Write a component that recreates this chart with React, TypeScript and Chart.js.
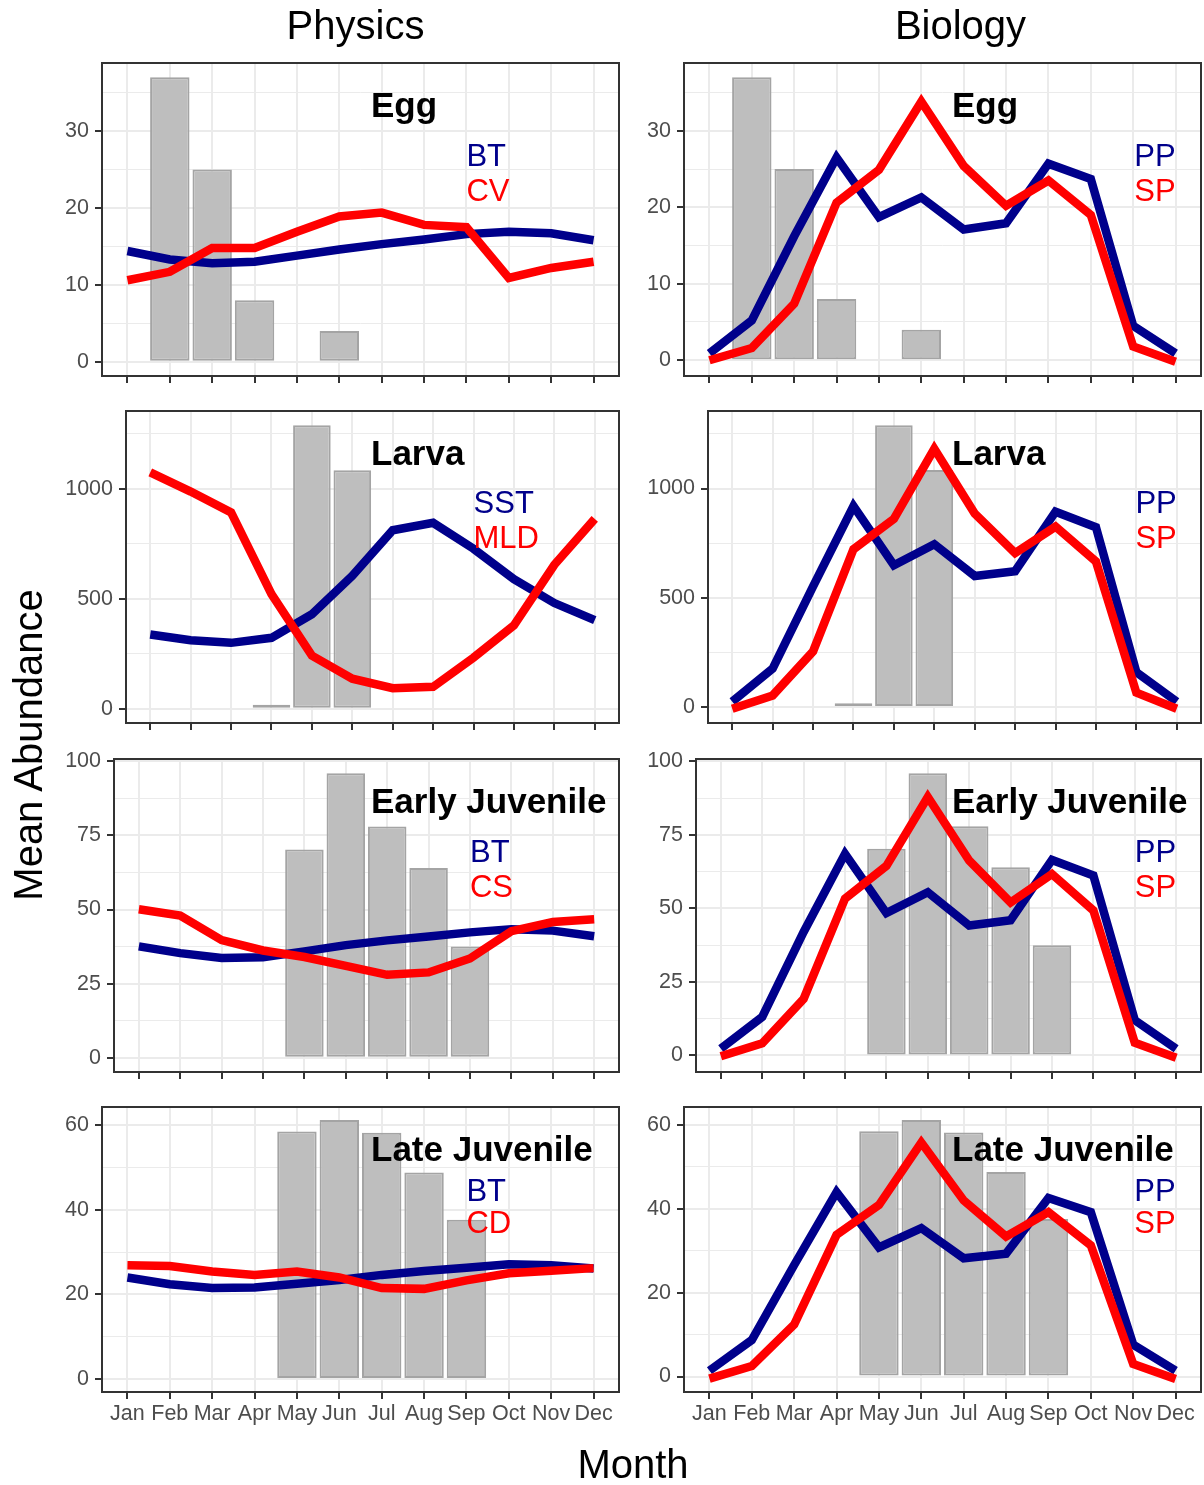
import React, { useEffect, useRef } from "react";
import { Chart, registerables } from "chart.js";

Chart.register(...registerables);

// ---------------- data ----------------
const MONTHS = ["Jan", "Feb", "Mar", "Apr", "May", "Jun", "Jul", "Aug", "Sep", "Oct", "Nov", "Dec"];
const STAGES = ["Egg", "Larva", "Early Juvenile", "Late Juvenile"];

// grey bars: mean abundance per stage (same in both columns)
const EGG_BARS = [null, 37, 25, 8, null, 4, null, null, null, null, null, null];
const LARVA_BARS = [null, null, null, 18, 1290, 1085, null, null, null, null, null, null];
const EARLY_JUV_BARS = [null, null, null, null, 70.3, 96, 78, 64, 37.5, null, null, null];
const LATE_JUV_BARS = [null, null, null, null, 58.5, 61.2, 58.2, 48.8, 37.6, null, null, null];

// Physics lines
const EGG_BT = [14.4, 13.3, 12.8, 13.0, 13.8, 14.6, 15.3, 15.9, 16.6, 16.9, 16.7, 15.8];
const EGG_CV = [10.6, 11.7, 14.8, 14.8, 16.9, 18.9, 19.4, 17.8, 17.5, 10.9, 12.2, 13.0];
const LARVA_SST = [338, 312, 300, 323, 430, 605, 812, 846, 728, 590, 481, 403];
const LARVA_MLD = [1075, 988, 893, 522, 242, 137, 94, 100, 233, 380, 655, 864];
const EJ_BT = [37.6, 35.3, 33.7, 33.9, 35.9, 38, 39.6, 40.9, 42.3, 43.4, 42.9, 41];
const EJ_CS = [50.1, 48, 39.7, 36.2, 34, 31, 28, 28.8, 33.5, 42.7, 45.8, 46.7];
const LJ_BT = [24, 22.4, 21.5, 21.6, 22.5, 23.4, 24.6, 25.5, 26.3, 27.1, 26.9, 26.1];
const LJ_CD = [26.9, 26.7, 25.4, 24.6, 25.4, 24, 21.5, 21.3, 23.3, 25, 25.6, 26.2];

// Biology lines
const EGG_PP = [0.9, 5.2, 16.2, 26.5, 18.7, 21.3, 17.1, 17.9, 25.7, 23.7, 4.5, 0.9];
const EGG_SP = [0, 1.6, 7.4, 20.6, 24.9, 33.8, 25.4, 20.2, 23.5, 19.0, 1.8, -0.2];
const LARVA_PP = [25, 176, 552, 920, 649, 745, 600, 622, 894, 823, 160, 25];
const LARVA_SP = [-8, 53, 255, 722, 861, 1182, 886, 705, 826, 666, 66, -8];
const EJ_PP = [2.3, 13.1, 42, 68.6, 48.4, 55.5, 44.2, 46, 66.5, 61.2, 12, 2.3];
const EJ_SP = [-0.3, 4.1, 19.2, 53.3, 64.5, 87.9, 66.3, 52, 61.7, 49.3, 4.3, -0.8];
const LJ_PP = [1.4, 8.7, 26.6, 44, 30.8, 35.4, 28.2, 29.3, 42.6, 39.2, 7.6, 1.4];
const LJ_SP = [-0.5, 2.5, 12.4, 33.8, 40.9, 55.8, 42, 33.4, 39.2, 31.3, 3, -0.6];

// major y tick step per stage row
const Y_STEPS = [10, 500, 25, 20];

// ---------------- layout / style ----------------
const FONT = '"Liberation Sans", Arial, Helvetica, sans-serif';
const ROW_TOP = [63, 411, 759, 1107];
const ROW_BOTTOM = [376, 723, 1072, 1392];
const COL_X = [0, 632];
const COL_W = [632, 572];
const PANEL_LEFT = [
  [102, 126, 114, 102],
  [684, 708, 696, 684],
];
const PANEL_RIGHT = [619, 1201];
const TITLE_X = [371, 952];
const TOP_PAD = 25;
const LABEL_X = [9, 12];
const LABEL_ALIGN: CanvasTextAlign[] = ["left", "right"];
const NAVY_FRAC = 0.699;
const RED_FRAC = 0.587;
const NAVY = "#00008B";
const RED = "#FF0000";
const LINE_W = 8.5;

type PanelCfg = {
  stage: string;
  row: number;
  col: number;
  bars: (number | null)[];
  navy: number[];
  red: number[];
  navyName: string;
  redName: string;
};

const PANELS: PanelCfg[] = [
  { stage: STAGES[0], row: 0, col: 0, bars: EGG_BARS, navy: EGG_BT, red: EGG_CV, navyName: "BT", redName: "CV" },
  { stage: STAGES[0], row: 0, col: 1, bars: EGG_BARS, navy: EGG_PP, red: EGG_SP, navyName: "PP", redName: "SP" },
  { stage: STAGES[1], row: 1, col: 0, bars: LARVA_BARS, navy: LARVA_SST, red: LARVA_MLD, navyName: "SST", redName: "MLD" },
  { stage: STAGES[1], row: 1, col: 1, bars: LARVA_BARS, navy: LARVA_PP, red: LARVA_SP, navyName: "PP", redName: "SP" },
  { stage: STAGES[2], row: 2, col: 0, bars: EARLY_JUV_BARS, navy: EJ_BT, red: EJ_CS, navyName: "BT", redName: "CS" },
  { stage: STAGES[2], row: 2, col: 1, bars: EARLY_JUV_BARS, navy: EJ_PP, red: EJ_SP, navyName: "PP", redName: "SP" },
  { stage: STAGES[3], row: 3, col: 0, bars: LATE_JUV_BARS, navy: LJ_BT, red: LJ_CD, navyName: "BT", redName: "CD" },
  { stage: STAGES[3], row: 3, col: 1, bars: LATE_JUV_BARS, navy: LJ_PP, red: LJ_SP, navyName: "PP", redName: "SP" },
];

function Panel({ p }: { p: PanelCfg }) {
  const ref = useRef<HTMLCanvasElement>(null);
  const xh = p.row === 3 ? 50 : 12;
  const top = ROW_TOP[p.row] - TOP_PAD;
  const height = ROW_BOTTOM[p.row] - ROW_TOP[p.row] + TOP_PAD + xh;
  const left = COL_X[p.col];
  const width = COL_W[p.col];
  const yw = PANEL_LEFT[p.col][p.row] - left;
  const padR = left + width - PANEL_RIGHT[p.col];

  useEffect(() => {
    if (!ref.current) return;
    const barVals = p.bars.filter((v) => v !== null) as number[];
    const all = [0, ...barVals, ...p.navy, ...p.red];
    const lo = Math.min(...all);
    const hi = Math.max(...all);
    const pad = (hi - lo) * 0.05;
    const yMin = lo - pad;
    const yMax = hi + pad;
    const step = Y_STEPS[p.row];
    const isMajor = (v: number) => Math.abs(v / step - Math.round(v / step)) < 1e-9;
    const showX = p.row === 3;

    const decor = {
      id: "panelDecor",
      afterDatasetsDraw(chart: any) {
        const { ctx, chartArea: a, scales } = chart;
        const xs = scales.x;
        const ys = scales.y;
        ctx.save();
        // variable labels
        ctx.font = `31px ${FONT}`;
        ctx.textBaseline = "middle";
        ctx.textAlign = LABEL_ALIGN[p.col];
        const lx = xs.getPixelForValue(LABEL_X[p.col]);
        ctx.fillStyle = NAVY;
        ctx.fillText(p.navyName, lx, ys.getPixelForValue(yMin + NAVY_FRAC * (yMax - yMin)));
        ctx.fillStyle = RED;
        ctx.fillText(p.redName, lx, ys.getPixelForValue(yMin + RED_FRAC * (yMax - yMin)));
        // stage title
        ctx.font = `bold 35px ${FONT}`;
        ctx.textAlign = "left";
        ctx.textBaseline = "alphabetic";
        ctx.fillStyle = "#000000";
        ctx.fillText(p.stage, TITLE_X[p.col] - left, a.top + 53.5);
        // panel border
        ctx.strokeStyle = "#333333";
        ctx.lineWidth = 2;
        ctx.strokeRect(a.left, a.top, a.right - a.left, a.bottom - a.top);
        ctx.restore();
      },
    };

    const chart = new Chart(ref.current, {
      type: "line",
      data: {
        datasets: [
          {
            type: "line",
            label: p.redName,
            data: p.red.map((v, i) => ({ x: i + 1, y: v })),
            borderColor: RED,
            backgroundColor: RED,
            borderWidth: LINE_W,
            pointRadius: 0,
            fill: false,
            tension: 0,
            borderJoinStyle: "miter",
            borderCapStyle: "butt",
            order: 0,
          },
          {
            type: "line",
            label: p.navyName,
            data: p.navy.map((v, i) => ({ x: i + 1, y: v })),
            borderColor: NAVY,
            backgroundColor: NAVY,
            borderWidth: LINE_W,
            pointRadius: 0,
            fill: false,
            tension: 0,
            borderJoinStyle: "miter",
            borderCapStyle: "butt",
            order: 1,
          },
          {
            type: "bar",
            label: "Abundance",
            data: p.bars
              .map((v, i) => (v === null ? null : { x: i + 1, y: v }))
              .filter((d) => d !== null) as any,
            backgroundColor: "#BEBEBE",
            borderColor: "#A4A4A4",
            borderWidth: 2,
            borderSkipped: false,
            categoryPercentage: 1,
            barPercentage: 0.93,
            order: 2,
          } as any,
        ],
      },
      options: {
        responsive: false,
        animation: false,
        devicePixelRatio: 1,
        layout: { padding: { top: TOP_PAD, right: padR, left: 0, bottom: 0 } },
        plugins: {
          legend: { display: false },
          tooltip: { enabled: false },
          title: { display: false },
        },
        scales: {
          x: {
            type: "linear",
            min: 0.4,
            max: 12.6,
            bounds: "data",
            offset: false,
            grid: {
              color: "#EBEBEB",
              lineWidth: 2,
              tickColor: "#333333",
              tickWidth: 2,
              tickLength: 7,
              offset: false,
              drawTicks: true,
            },
            border: { display: false },
            ticks: {
              display: showX,
              autoSkip: false,
              maxRotation: 0,
              minRotation: 0,
              padding: 2,
              color: "#4D4D4D",
              font: { family: FONT, size: 21.5 },
              callback: (v: any) => MONTHS[Math.round(Number(v)) - 1] ?? "",
            },
            afterBuildTicks: (s: any) => {
              s.ticks = MONTHS.map((_, i) => ({ value: i + 1 }));
            },
            afterFit: (s: any) => {
              s.height = xh;
              s.paddingLeft = 0;
              s.paddingRight = 0;
              s.paddingTop = 0;
              s.paddingBottom = 0;
            },
          },
          y: {
            type: "linear",
            min: yMin,
            max: yMax,
            bounds: "data",
            grid: {
              color: "#EBEBEB",
              lineWidth: (ctx: any) => (ctx.tick && !isMajor(ctx.tick.value) ? 1 : 2),
              tickColor: (ctx: any) => (ctx.tick && !isMajor(ctx.tick.value) ? "rgba(0,0,0,0)" : "#333333"),
              tickWidth: 2,
              tickLength: 7,
              drawTicks: true,
            },
            border: { display: false },
            ticks: {
              autoSkip: false,
              padding: 6,
              color: "#4D4D4D",
              font: { family: FONT, size: 21.5 },
              callback: (v: any) => (isMajor(Number(v)) ? String(Math.round(Number(v))) : ""),
            },
            afterBuildTicks: (s: any) => {
              const half = step / 2;
              const ticks: { value: number }[] = [];
              for (let k = Math.ceil(yMin / half); k * half <= yMax; k++) {
                ticks.push({ value: k * half + 0 });
              }
              s.ticks = ticks;
            },
            afterFit: (s: any) => {
              s.width = yw;
              s.paddingLeft = 0;
              s.paddingRight = 0;
              s.paddingTop = 0;
              s.paddingBottom = 0;
            },
          },
        },
      } as any,
      plugins: [decor],
    });
    return () => chart.destroy();
  }, []);

  return (
    <canvas
      ref={ref}
      width={width}
      height={height}
      style={{ position: "absolute", left, top, width, height }}
    />
  );
}

export default function App() {
  return (
    <div
      style={{
        position: "absolute",
        left: 0,
        top: 0,
        width: 1204,
        height: 1485,
        overflow: "hidden",
        background: "#FFFFFF",
      }}
    >
      {PANELS.map((p, i) => (
        <Panel key={i} p={p} />
      ))}
      <svg
        width={1204}
        height={1485}
        style={{ position: "absolute", left: 0, top: 0, pointerEvents: "none" }}
        fontFamily={FONT}
      >
        <text x={355.5} y={39} fontSize={40} textAnchor="middle" fill="#000000">
          Physics
        </text>
        <text x={960.5} y={39} fontSize={40} textAnchor="middle" fill="#000000">
          Biology
        </text>
        <text transform="translate(41.5 745) rotate(-90)" fontSize={40} textAnchor="middle" fill="#000000">
          Mean Abundance
        </text>
        <text x={633} y={1478} fontSize={40} textAnchor="middle" fill="#000000">
          Month
        </text>
      </svg>
    </div>
  );
}
